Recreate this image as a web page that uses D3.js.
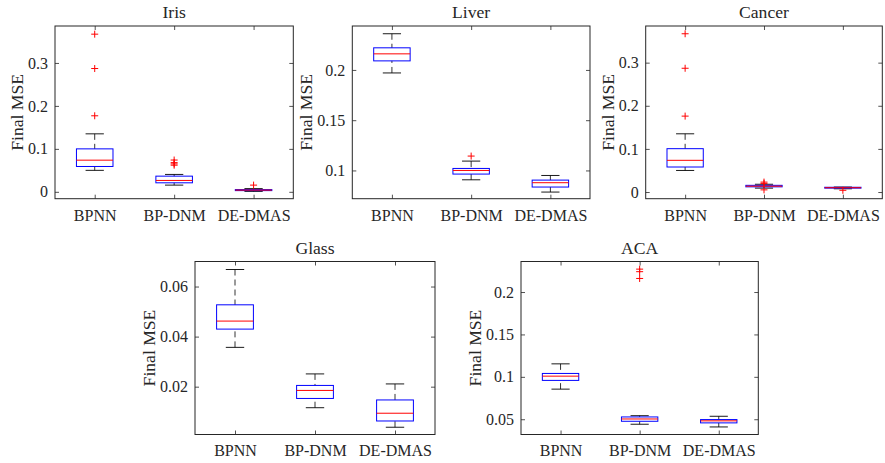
<!DOCTYPE html>
<html>
<head>
<meta charset="utf-8">
<script src="https://cdn.jsdelivr.net/npm/d3@7"></script>
<style>
  body { margin: 0; background: #fff; }
  svg text { font-family: 'Liberation Serif', 'Times New Roman', Times, 'DejaVu Serif', serif; fill: #262626; }
</style>
</head>
<body>
<svg id="chart" width="885" height="463"></svg>
<script>
// box stats per method: [lower whisker, q1, median, q3, upper whisker]
var categories = ['BPNN', 'BP-DNM', 'DE-DMAS'];

var irisStats = [[0.050, 0.059, 0.0737, 0.100, 0.135], [0.0156, 0.021, 0.0265, 0.0365, 0.0405], [0.001, 0.0028, 0.004, 0.0052, 0.0075]];
var irisOutliers = [[0.367, 0.287, 0.177], [0.074, 0.068, 0.065, 0.062], [0.0156]];
var irisTicks = [0, 0.1, 0.2, 0.3];
var irisYLim = [-0.016, 0.386];

var liverStats = [[0.197, 0.209, 0.216, 0.222, 0.236], [0.0907, 0.0964, 0.100, 0.102, 0.1093], [0.0785, 0.0835, 0.0878, 0.0904, 0.095]];
var liverOutliers = [[], [0.1143], []];
var liverTicks = [0.1, 0.15, 0.2];
var liverYLim = [0.0719, 0.2437];

var cancerStats = [[0.050, 0.058, 0.0735, 0.1005, 0.135], [0.009, 0.012, 0.0135, 0.0155, 0.018], [0.0075, 0.009, 0.010, 0.011, 0.0115]];
var cancerOutliers = [[0.367, 0.287, 0.176], [0.023, 0.020, 0.005], [0.004]];
var cancerTicks = [0, 0.1, 0.2, 0.3];
var cancerYLim = [-0.0155, 0.385];

var glassStats = [[0.0357, 0.0430, 0.0462, 0.0527, 0.0668], [0.0116, 0.0153, 0.0185, 0.0205, 0.0251], [0.0038, 0.0063, 0.0094, 0.0147, 0.0211]];
var glassOutliers = [[], [], []];
var glassTicks = [0.02, 0.04, 0.06];
var glassYLim = [0.0009, 0.0700];

var acaStats = [[0.0855, 0.0958, 0.1008, 0.104, 0.1153], [0.0441, 0.0476, 0.0503, 0.0527, 0.0542], [0.0409, 0.0457, 0.0481, 0.0496, 0.0535]];
var acaOutliers = [[], [0.227, 0.224, 0.216], []];
var acaTicks = [0.05, 0.1, 0.15, 0.2];
var acaYLim = [0.032, 0.236];

var panels = [
  { title: 'Iris',   stats: irisStats,   outliers: irisOutliers,   ticks: irisTicks,   ylim: irisYLim,   left: 55,    top: 26,    width: 238.3, height: 172.7 },
  { title: 'Liver',  stats: liverStats,  outliers: liverOutliers,  ticks: liverTicks,  ylim: liverYLim,  left: 352.3, top: 26,    width: 237.7, height: 172.7 },
  { title: 'Cancer', stats: cancerStats, outliers: cancerOutliers, ticks: cancerTicks, ylim: cancerYLim, left: 645.7, top: 26,    width: 236.6, height: 172.7 },
  { title: 'Glass',  stats: glassStats,  outliers: glassOutliers,  ticks: glassTicks,  ylim: glassYLim,  left: 195,   top: 261.5, width: 240,   height: 173 },
  { title: 'ACA',    stats: acaStats,    outliers: acaOutliers,    ticks: acaTicks,    ylim: acaYLim,    left: 521,   top: 261.5, width: 237.3, height: 173 }
];

var axisColor = '#262626';
var serif = "'Liberation Serif', 'Times New Roman', Times, 'DejaVu Serif', serif";
var svg = d3.select('#chart');

panels.forEach(function(p) {
  var g = svg.append('g').attr('transform', 'translate(' + p.left + ',' + p.top + ')');

  var x = d3.scaleLinear().domain([0.5, 3.5]).range([0, p.width]);
  var y = d3.scaleLinear().domain(p.ylim).range([p.height, 0]);
  var step = x(2) - x(1);
  var boxW = step * 0.46;
  var capW = boxW / 2;

  // axes (ticks pointing inward, box on)
  var yAxis = g.append('g').attr('class', 'y-axis')
    .call(d3.axisLeft(y).tickValues(p.ticks).tickSize(-4).tickPadding(7).tickFormat(function(d) { return String(d); }));
  g.append('g').attr('transform', 'translate(' + p.width + ',0)')
    .call(d3.axisRight(y).tickValues(p.ticks).tickSize(-4).tickFormat(''));
  g.append('g').attr('transform', 'translate(0,' + p.height + ')')
    .call(d3.axisBottom(x).tickValues([1, 2, 3]).tickSize(-4).tickPadding(10.6).tickFormat(function(d) { return categories[d - 1]; }));
  g.append('g')
    .call(d3.axisTop(x).tickValues([1, 2, 3]).tickSize(-4).tickFormat(''));

  g.selectAll('.domain').remove();
  g.selectAll('g').attr('font-family', serif).attr('font-size', 16);
  g.selectAll('.tick line').attr('stroke', axisColor).attr('stroke-width', 0.8);
  g.selectAll('.tick text').attr('fill', axisColor);

  g.append('rect')
    .attr('x', 0).attr('y', 0).attr('width', p.width).attr('height', p.height)
    .attr('fill', 'none').attr('stroke', axisColor).attr('stroke-width', 1);

  // boxes
  var box = g.selectAll('.box').data(p.stats).enter().append('g').attr('class', 'box');

  box.append('line')
    .attr('x1', function(d, i) { return x(i + 1); }).attr('x2', function(d, i) { return x(i + 1); })
    .attr('y1', function(d) { return y(d[4]); }).attr('y2', function(d) { return y(d[3]); })
    .attr('stroke', '#000').attr('stroke-width', 0.8).attr('stroke-dasharray', '6,4');
  box.append('line')
    .attr('x1', function(d, i) { return x(i + 1); }).attr('x2', function(d, i) { return x(i + 1); })
    .attr('y1', function(d) { return y(d[0]); }).attr('y2', function(d) { return y(d[1]); })
    .attr('stroke', '#000').attr('stroke-width', 0.8).attr('stroke-dasharray', '6,4');
  [0, 4].forEach(function(k) {
    box.append('line')
      .attr('x1', function(d, i) { return x(i + 1) - capW / 2; }).attr('x2', function(d, i) { return x(i + 1) + capW / 2; })
      .attr('y1', function(d) { return y(d[k]); }).attr('y2', function(d) { return y(d[k]); })
      .attr('stroke', '#000').attr('stroke-width', 0.9);
  });
  box.append('rect')
    .attr('x', function(d, i) { return x(i + 1) - boxW / 2; })
    .attr('y', function(d) { return y(d[3]); })
    .attr('width', boxW)
    .attr('height', function(d) { return Math.max(y(d[1]) - y(d[3]), 0.5); })
    .attr('fill', 'none').attr('stroke', '#0000ff').attr('stroke-width', 1);
  box.append('line')
    .attr('x1', function(d, i) { return x(i + 1) - boxW / 2; }).attr('x2', function(d, i) { return x(i + 1) + boxW / 2; })
    .attr('y1', function(d) { return y(d[2]); }).attr('y2', function(d) { return y(d[2]); })
    .attr('stroke', '#ff0000').attr('stroke-width', 1);

  // outliers as red '+'
  p.outliers.forEach(function(list, i) {
    g.selectAll(null).data(list).enter().append('path')
      .attr('d', function(v) {
        var cx = x(i + 1), cy = y(v), r = 3.5;
        return 'M' + (cx - r) + ',' + cy + 'H' + (cx + r) + 'M' + cx + ',' + (cy - r) + 'V' + (cy + r);
      })
      .attr('stroke', '#ff0000').attr('stroke-width', 1).attr('fill', 'none');
  });

  // title
  g.append('text')
    .attr('x', p.width / 2).attr('y', -8)
    .attr('text-anchor', 'middle')
    .attr('font-family', serif).attr('font-size', 17.6)
    .text(p.title);

  // y label placed left of the widest tick label
  var maxW = 0;
  yAxis.selectAll('.tick text').each(function() { maxW = Math.max(maxW, this.getBBox().width); });
  var lx = -7 - maxW - 5;
  g.append('text')
    .attr('transform', 'translate(' + lx + ',' + (p.height / 2) + ') rotate(-90)')
    .attr('text-anchor', 'middle')
    .attr('font-family', serif).attr('font-size', 17.6)
    .text('Final MSE');
});
</script>
</body>
</html>
